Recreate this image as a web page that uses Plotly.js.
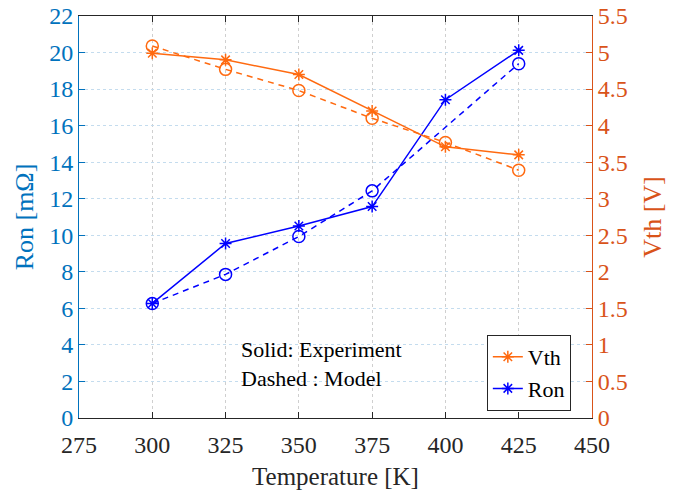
<!DOCTYPE html>
<html>
<head>
<meta charset="utf-8">
<script src="https://cdn.plot.ly/plotly-3.0.1.min.js"></script>
<style>html,body{margin:0;padding:0;background:#fff;}#chart{width:692px;height:495px;}</style>
</head>
<body>
<div id="chart"></div>
<script>
const temperature = [300, 325, 350, 375, 400, 425];
const ronExperiment = [6.27, 9.55, 10.51, 11.57, 17.42, 20.12];
const ronModel = [6.27, 7.86, 9.93, 12.43, null, 19.39];
const vthExperiment = [4.99, 4.90, 4.70, 4.20, 3.71, 3.60];
const vthModel = [5.09, 4.77, 4.48, 4.10, 3.77, 3.39];
const xTicks = [275, 300, 325, 350, 375, 400, 425, 450];

const blue = '#0000FF';
const orange = '#FF6A10';
const axBlue = '#0072BD';
const axOrange = '#D95319';
const font = 'Liberation Serif';

const traces = [
  {x: temperature, y: ronExperiment, name: 'Ron', yaxis: 'y', mode: 'lines+markers',
   line: {color: blue, width: 1.5}, marker: {symbol: 'asterisk-open', size: 10, color: blue, line: {color: blue, width: 1.5}},
   legendrank: 2},
  {x: temperature, y: ronModel, name: 'Ron model', yaxis: 'y', mode: 'lines+markers', connectgaps: true, showlegend: false,
   line: {color: blue, width: 1.5, dash: '6px,5px'}, marker: {symbol: 'circle-open', size: 12, color: blue, line: {color: blue, width: 1.5}}},
  {x: temperature, y: vthExperiment, name: 'Vth', yaxis: 'y2', mode: 'lines+markers',
   line: {color: orange, width: 1.5}, marker: {symbol: 'asterisk-open', size: 10, color: orange, line: {color: orange, width: 1.5}},
   legendrank: 1},
  {x: temperature, y: vthModel, name: 'Vth model', yaxis: 'y2', mode: 'lines+markers', showlegend: false,
   line: {color: orange, width: 1.5, dash: '6px,5px'}, marker: {symbol: 'circle-open', size: 12, color: orange, line: {color: orange, width: 1.5}}}
];

const layout = {
  width: 692, height: 495,
  margin: {l: 79, r: 100, t: 16, b: 77},
  paper_bgcolor: '#fff', plot_bgcolor: '#fff',
  font: {family: font, size: 24, color: '#262626'},
  showlegend: true,
  legend: {x: 0.795, y: 0.112, xanchor: 'left', yanchor: 'middle', bgcolor: '#fff',
           bordercolor: '#262626', borderwidth: 1, font: {family: font, size: 22, color: '#000'},
           tracegroupgap: 0, itemwidth: 30},
  xaxis: {range: [275, 450], tickvals: xTicks, ticktext: xTicks.map(String),
          showgrid: true, gridcolor: '#cfcfcf', griddash: 'dot', gridwidth: 1,
          showline: true, linecolor: '#262626', linewidth: 1, mirror: 'ticks',
          ticks: 'inside', ticklen: 6, tickcolor: '#262626', zeroline: false, ticklabelstandoff: 5,
          tickfont: {family: font, size: 24, color: '#262626'},
          title: {text: 'Temperature [K]', font: {family: font, size: 25, color: '#262626'}, standoff: 10}},
  yaxis: {range: [0, 22], dtick: 2, tick0: 0, showgrid: true, gridcolor: '#c4dcee', griddash: 'dot', gridwidth: 1,
          showline: true, linecolor: axBlue, linewidth: 1, ticks: 'inside', ticklen: 6, tickcolor: axBlue,
          zeroline: false, tickfont: {family: font, size: 24, color: axBlue},
          title: {text: 'Ron [mΩ]', font: {family: font, size: 26, color: axBlue}, standoff: 8}},
  yaxis2: {range: [0, 5.5], dtick: 0.5, tick0: 0, overlaying: 'y', side: 'right', showgrid: false,
           showline: true, linecolor: axOrange, linewidth: 1, ticks: 'inside', ticklen: 6, tickcolor: axOrange,
           zeroline: false, tickfont: {family: font, size: 24, color: axOrange},
           title: {text: 'Vth [V]', font: {family: font, size: 26, color: axOrange}, standoff: 16}},
  annotations: [{x: 329.5, y: 2.95, xref: 'x', yref: 'y', xanchor: 'left', yanchor: 'middle', showarrow: false, align: 'left',
                 text: 'Solid: Experiment<br>Dashed : Model', font: {family: font, size: 22, color: '#000'}}]
};

Plotly.newPlot('chart', traces, layout, {displayModeBar: false, responsive: false});
</script>
</body>
</html>
